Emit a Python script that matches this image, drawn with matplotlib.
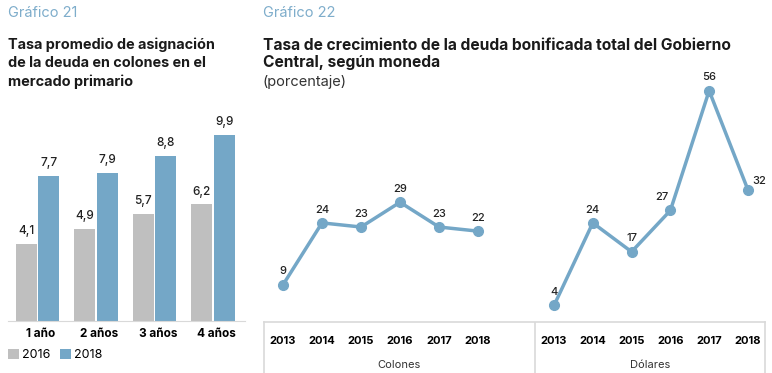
import numpy as np
import matplotlib.pyplot as plt

# Gráfico 21: tasa promedio de asignación
plazos = ["1 año", "2 años", "3 años", "4 años"]
tasa_2016 = [4.1, 4.9, 5.7, 6.2]
tasa_2018 = [7.7, 7.9, 8.8, 9.9]

# Gráfico 22: crecimiento de la deuda bonificada
anios = ["2013", "2014", "2015", "2016", "2017", "2018"]
colones = [9, 24, 23, 29, 23, 22]
dolares = [4, 24, 17, 27, 56, 32]

GRAY = "#BFBFBF"
BLUE = "#74A7C7"
TITLE_BLUE = "#7EADCB"
BORDER = "#D9D9D9"

plt.rcParams["font.family"] = ["Inter", "DejaVu Sans"]

W, H = 772, 373
fig = plt.figure(figsize=(W / 100, H / 100), dpi=100)


def px_axes(x0, y0, x1, y1):
    # pixel box (top-left origin) -> figure axes
    return fig.add_axes([x0 / W, 1 - y1 / H, (x1 - x0) / W, (y1 - y0) / H])


# titles
fig.text(8 / W, 1 - 13 / H, "Gráfico 21", color=TITLE_BLUE, fontsize=10.5, va="center")
fig.text(8 / W, 1 - 63 / H, "Tasa promedio de asignación\nde la deuda en colones en el\nmercado primario",
         fontsize=10.4, fontweight="bold", va="center", linespacing=1.4, color="#1a1a1a")
fig.text(263 / W, 1 - 13 / H, "Gráfico 22", color=TITLE_BLUE, fontsize=10.5, va="center")
fig.text(263 / W, 1 - 54 / H, "Tasa de crecimiento de la deuda bonificada total del Gobierno\nCentral, según moneda",
         fontsize=11.2, fontweight="bold", va="center", linespacing=1.25, color="#1a1a1a")
fig.text(263 / W, 1 - 82 / H, "(porcentaje)", fontsize=10.5, va="center", color="#333333")

# --- bar chart ---
ax = px_axes(8, 100, 245, 321)
x = np.arange(len(plazos))
w = 0.36
off = 0.19
b1 = ax.bar(x - off, tasa_2016, w, color=GRAY, label="2016")
b2 = ax.bar(x + off, tasa_2018, w, color=BLUE, label="2018")
for bars, vals in ((b1, tasa_2016), (b2, tasa_2018)):
    for r, v in zip(bars, vals):
        ax.annotate(f"{v:.1f}".replace(".", ","), (r.get_x() + r.get_width() / 2, v),
                    xytext=(0, 5), textcoords="offset points", ha="center", va="bottom",
                    fontsize=8.5, fontweight="medium", color="#222222")
ax.set_xlim(-0.504, 3.547)
ax.set_ylim(0, 11.76)
ax.set_yticks([])
ax.set_xticks(x + 0.06)
ax.set_xticklabels(plazos, fontsize=8.5, fontweight="bold")
ax.tick_params(axis="x", length=0, pad=5)
for s in ("top", "right", "left"):
    ax.spines[s].set_visible(False)
ax.spines["bottom"].set_color(BORDER)
ax.legend(loc="upper left", bbox_to_anchor=(0.0, -0.125), ncol=2, frameon=False,
          fontsize=9, handlelength=0.9, handleheight=0.9, handletextpad=0.2,
          columnspacing=0.8, borderaxespad=0, borderpad=0)

# --- box under the line charts ---
box = px_axes(264, 322, 765, 380)
box.set_xlim(264, 765)
box.set_ylim(0, 1)
box.set_xticks([])
box.set_yticks([])
box.spines["bottom"].set_visible(False)
for s in ("top", "left", "right"):
    box.spines[s].set_color(BORDER)
    box.spines[s].set_linewidth(1.2)
box.axvline(535, color=BORDER, lw=1.2)
box.patch.set_alpha(0)


def line_panel(x0, x1, xlim, vals, name, offsets):
    a = px_axes(x0, 80, x1, 322)
    xs = np.arange(len(vals))
    a.plot(xs, vals, color=BLUE, lw=2.5, marker="o", ms=7, clip_on=False)
    for xi, v, (dx, dy) in zip(xs, vals, offsets):
        a.annotate(str(v), (xi, v), xytext=(dx, dy), textcoords="offset points",
                   ha="center", va="bottom", fontsize=8, fontweight="medium", color="#222222")
    a.set_xlim(*xlim)
    a.set_ylim(0, 58.6)
    a.set_yticks([])
    a.set_xticks(xs)
    a.set_xticklabels(anios, fontsize=8, fontweight="bold")
    a.tick_params(axis="x", length=0, pad=10)
    a.set_xlabel(name, fontsize=8, color="#333333", labelpad=10)
    for s in a.spines.values():
        s.set_visible(False)
    a.patch.set_alpha(0)
    return a


line_panel(264, 535, (-0.487, 6.46), colones, "Colones", [(0, 6)] * 6)
line_panel(535, 765, (-0.49, 5.44), dolares, "Dólares",
           [(0, 6), (0, 6), (0, 6), (-6, 6), (0, 6), (8, 3)])

fig.savefig("out.png", dpi=100)
